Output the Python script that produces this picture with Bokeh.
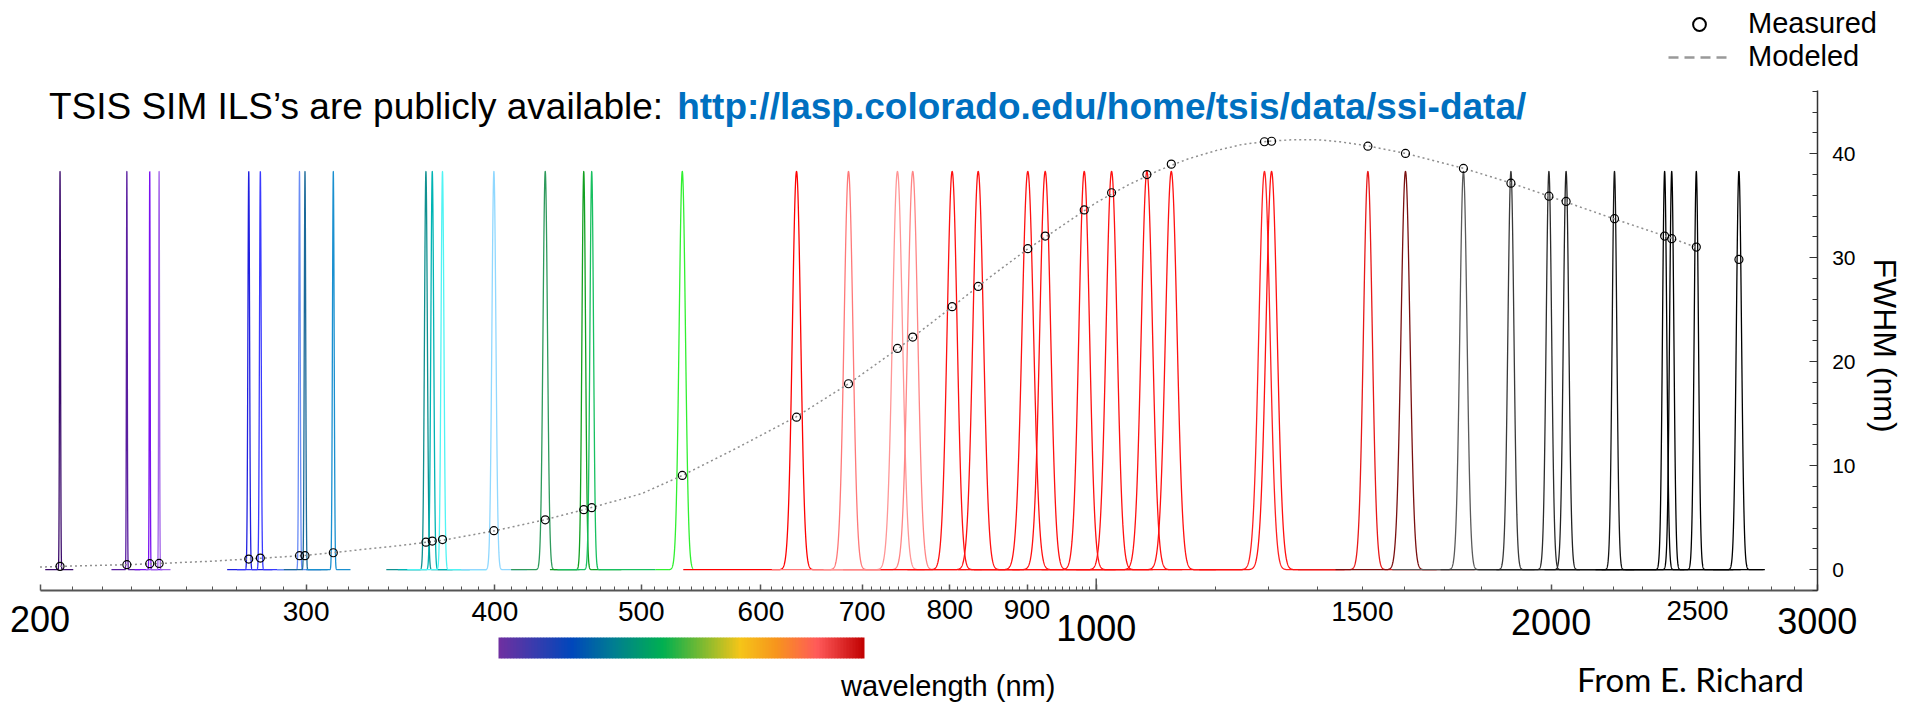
import numpy as np
from bokeh.plotting import figure
from bokeh.models import (FixedTicker, Label, Legend, LegendItem, ColumnDataSource,
                          BoxAnnotation, Range1d, LogAxis, LinearAxis, Grid)
from bokeh.embed import file_html
from bokeh.resources import INLINE

# ---------------- data ----------------
center_nm = [206.2, 228.3, 236.4, 239.8, 274.9, 279.8, 297.0, 299.5, 312.7, 360.1,
             363.6, 369.3, 399.4, 431.9, 458.0, 463.6, 532.2, 633.4, 685.6, 738.7,
             756.1, 802.9, 835.4, 901.0, 925.2, 981.9, 1023.7, 1080.3, 1121.2, 1292.2,
             1306.3, 1512.8, 1602.0, 1749.9, 1881.2, 1993.3, 2046.2, 2202.8, 2377.7, 2403.5,
             2495.3, 2662.7]
fwhm_measured = [0.32, 0.48, 0.58, 0.60, 1.02, 1.12, 1.35, 1.35, 1.63, 2.65,
                 2.75, 2.90, 3.75, 4.80, 5.77, 5.96, 9.07, 14.67, 17.88, 21.28,
                 22.37, 25.29, 27.24, 30.87, 32.08, 34.60, 36.25, 38.00, 39.00, 41.15,
                 41.20, 40.73, 40.03, 38.59, 37.17, 35.92, 35.41, 33.75, 32.08, 31.83,
                 31.02, 29.84]
# apparent width of each plotted ILS curve (nm) and the wavelength span of its data
ils_width_nm = [0.37, 0.35, 0.36, 0.37, 0.84, 0.85, 0.76, 0.77, 0.95, 1.84,
                1.86, 1.90, 2.86, 3.45, 2.93, 2.97, 6.0, 9.4, 10.9, 13.3,
                13.6, 14.4, 15.8, 18.5, 18.0, 18.6, 20.0, 21.6, 23.0, 25.8,
                26.1, 23.7, 25.4, 22.4, 20.2, 19.4, 19.9, 18.1, 18.2, 18.4,
                19.0, 24.6]
ils_lo_nm = [201.6, 223, 231, 235, 266, 270, 287, 290, 300, 339,
             345, 350, 380, 410, 435, 440, 511, 533, 610, 660,
             680, 720, 750, 810, 830, 880, 920, 970, 1000, 1160,
             1170, 1360, 1440, 1570, 1690, 1790, 1840, 1980, 2140, 2160,
             2240, 2560]
ils_hi_nm = [210.4, 233, 241, 244, 285, 290, 307, 310, 321, 375,
             385, 395, 420, 455, 485, 511, 541, 720, 770, 820,
             840, 890, 930, 1000, 1030, 1090, 1140, 1200, 1250, 1440,
             1460, 1680, 1780, 1950, 2090, 2220, 2270, 2450, 2640, 2670,
             2770, 2764]
ils_peak = 38.3

model_nm = [200, 206, 228, 240, 260, 280, 300, 320, 350, 370, 400, 430, 460, 500, 532,
            580, 633, 686, 740, 800, 850, 900, 950, 1000, 1050, 1100, 1150, 1200, 1250,
            1300, 1350, 1400, 1450, 1513, 1600, 1750, 1880, 2000, 2200, 2400, 2495]
model_fwhm = [0.25, 0.32, 0.48, 0.60, 0.82, 1.10, 1.38, 1.80, 2.40, 2.85, 3.75, 4.75, 5.85, 7.3, 9.05,
              11.8, 14.7, 17.9, 21.3, 25.1, 28.1, 30.8, 33.1, 35.3, 37.0, 38.4, 39.5, 40.3, 40.9,
              41.2, 41.35, 41.35, 41.15, 40.75, 40.05, 38.6, 37.2, 35.85, 33.75, 31.9, 31.0]

x_major_ticks = [200, 300, 400, 500, 600, 700, 800, 900, 1000, 2000, 3000]
x_minor_ticks = [v for v in range(210, 1000, 10) if v % 100] + [v for v in range(1100, 3000, 100) if v != 2000]
x_long_tick = [1000]
y_major_ticks = [0, 10, 20, 30, 40]
y_minor_ticks = [v for v in range(-2, 47, 2) if v % 10]

big_tick_labels = ["200", "1000", "2000", "3000"]
big_tick_values = [200, 1000, 2000, 3000]
small_tick_labels = ["300", "400", "500", "600", "700", "800", "900", "1500", "2500"]
small_tick_values = [300, 400, 500, 600, 700, 800, 900, 1500, 2500]

# ---------------- styles / layout ----------------
ils_colors = ['#3b0a6b', '#5a1ea0', '#7a10f0', '#a060e8', '#2020e0', '#3a3aff', '#6a8cf5', '#1c6a9a',
              '#1a90d0', '#109090', '#00b4b4', '#50f4f4', '#90d8ff', '#2e9a5c', '#12a020', '#18c060',
              '#30f030', '#ff0000', '#ff7878', '#ff9696', '#ff8585', '#ff1010', '#ff1010', '#ff1010',
              '#ff1010', '#ff1010', '#ff1010', '#ff1010', '#ff1010', '#ff2020', '#ff1010', '#e81818',
              '#7a1010', '#5a5a5a', '#3a3a3a', '#2c2c2c', '#222222', '#141414', '#000000', '#000000',
              '#000000', '#000000']
big_label_baseline = [631, 640, 634, 633]       # canvas px
small_label_baseline = [620, 620, 620, 620, 620, 618, 618, 620, 619]
cbar_stops = [(0.0, '#7030A0'), (0.2, '#0047BB'), (0.32, '#00808F'), (0.45, '#00B050'),
              (0.56, '#80BA30'), (0.66, '#F5C518'), (0.76, '#F7941D'), (0.87, '#FF5A5A'),
              (1.0, '#C00000')]

FONT = "Liberation Sans"
W, H = 1905, 703
AX_L, AX_R, AX_T, AX_B = 39.5, 1816.7, 90.0, 590.0   # canvas px of the axes box
X0, X1 = 200.0, 3000.0
Y0, Y1 = -2.0, 46.08
MID = 0.335   # em offset between the 'middle' anchor and the alphabetic baseline


def xd(px):
    return 10 ** (np.log10(X0) + (px - AX_L) / (AX_R - AX_L) * np.log10(X1 / X0))


def yd(py):
    return Y0 + (AX_B - py) / (AX_B - AX_T) * (Y1 - Y0)


def text_at(x, baseline_px, text, size, align="left", **kw):
    return Label(x=x, y=yd(baseline_px - MID * size), text=text, text_align=align,
                 text_baseline="middle", text_font=kw.pop("font", FONT),
                 text_font_size="%dpx" % size, text_color=kw.pop("color", "black"), **kw)


p = figure(width=W, height=H, x_axis_type="log", x_axis_location=None, y_axis_location=None,
           x_range=Range1d(xd(0), xd(W)), y_range=Range1d(yd(H), yd(0)),
           output_backend="svg", toolbar_location=None,
           min_border=0, min_border_left=0, min_border_right=0,
           min_border_top=0, min_border_bottom=0)
p.outline_line_color = None
p.background_fill_color = "white"
p.border_fill_color = "white"
for r in list(p.center):
    if isinstance(r, Grid):
        r.visible = False
        r.grid_line_color = None

# ILS curves
xs, ys = [], []
for c, w, lo, hi in zip(center_nm, ils_width_nm, ils_lo_nm, ils_hi_nm):
    s = w / 2.3548
    lam = np.concatenate([np.geomspace(lo, hi, 500), np.linspace(c - 5 * s, c + 5 * s, 300)])
    lam = np.unique(lam[(lam >= lo) & (lam <= hi)])
    xs.append(lam)
    ys.append(ils_peak * np.exp(-0.5 * ((lam - c) / s) ** 2))
p.multi_line(xs=xs, ys=ys, line_color=ils_colors, line_width=1.3)

# modeled FWHM
p.line(model_nm, model_fwhm, line_color="#8f8f8f", line_width=1.5, line_dash="2 3")
# measured FWHM
p.scatter(center_nm, fwhm_measured, marker="circle", size=8, fill_color=None,
          line_color="black", line_width=1.2)

# axes (fixed inside the canvas)
xa = LogAxis(fixed_location=Y0, bounds=(X0, X1),
             ticker=FixedTicker(ticks=x_major_ticks, minor_ticks=x_minor_ticks),
             major_label_overrides={t: "" for t in x_major_ticks})
xa.axis_line_color = "#555555"
xa.axis_line_width = 2
xa.major_tick_in = 6
xa.major_tick_out = 0
xa.minor_tick_in = 4
xa.minor_tick_out = 0
xa.major_tick_line_color = "#555555"
xa.minor_tick_line_color = "#555555"
xa.major_tick_line_width = 1.5
p.add_layout(xa, "below")
p.segment(x0=x_long_tick, y0=[Y0] * len(x_long_tick), x1=x_long_tick,
          y1=[yd(AX_B - 12)] * len(x_long_tick), line_color="#555555", line_width=1.5)

ya = LinearAxis(fixed_location=X1, bounds=(Y0, Y1),
                ticker=FixedTicker(ticks=y_major_ticks, minor_ticks=y_minor_ticks))
ya.axis_line_color = "#333333"
ya.axis_line_width = 1.5
ya.major_tick_in = 8
ya.major_tick_out = 0
ya.minor_tick_in = 5
ya.minor_tick_out = 0
ya.major_tick_line_color = "#333333"
ya.minor_tick_line_color = "#333333"
ya.major_label_text_font = FONT
ya.major_label_text_font_size = "21px"
ya.major_label_text_color = "black"
ya.major_label_standoff = 15
p.add_layout(ya, "right")

# x tick labels
for t, v, b in zip(big_tick_labels, big_tick_values, big_label_baseline):
    p.add_layout(text_at(v, b, t, 36, align="center"))
for t, v, b in zip(small_tick_labels, small_tick_values, small_label_baseline):
    p.add_layout(text_at(v, b, t, 28, align="center"))

# y axis title
p.add_layout(Label(x=xd(1884), y=yd(345), text="FWHM (nm)", angle=-np.pi / 2,
                   text_align="center", text_baseline="middle",
                   text_font=FONT, text_font_size="32px", text_color="black"))

# header
p.add_layout(text_at(xd(48.4), 118.3, "TSIS SIM ILS\u2019s are publicly available:", 37))
p.add_layout(text_at(xd(676.7), 118.3, "http://lasp.colorado.edu/home/tsis/data/ssi-data/", 37,
                     color="#0070C0", text_font_style="bold"))


# colour bar (wavelength)
def mix(c1, c2, f):
    a = [int(c1[i:i + 2], 16) for i in (1, 3, 5)]
    b = [int(c2[i:i + 2], 16) for i in (1, 3, 5)]
    return "#%02x%02x%02x" % tuple(int(round(a[k] + (b[k] - a[k]) * f)) for k in range(3))


CB_L, CB_R, CB_T, CB_B = 498.0, 864.0, 637.0, 658.0
nseg = 122
for i in range(nseg):
    f = (i + 0.5) / nseg
    col = cbar_stops[-1][1]
    for j in range(len(cbar_stops) - 1):
        if cbar_stops[j][0] <= f <= cbar_stops[j + 1][0]:
            g = (f - cbar_stops[j][0]) / (cbar_stops[j + 1][0] - cbar_stops[j][0])
            col = mix(cbar_stops[j][1], cbar_stops[j + 1][1], g)
            break
    l = CB_L + (CB_R - CB_L) * i / nseg
    r = CB_L + (CB_R - CB_L) * (i + 1) / nseg + 0.6
    p.add_layout(BoxAnnotation(left=xd(l), right=xd(min(r, CB_R)), top=yd(CB_T), bottom=yd(CB_B),
                               fill_color=col, fill_alpha=1.0, line_color=None))

p.add_layout(text_at(xd(947.7), 695.5, "wavelength (nm)", 29, align="center"))
p.add_layout(text_at(xd(1690), 690, "From E. Richard", 33, align="center", font="Lato"))

# legend (styled like the reference's legend); its sample renderers sit off-canvas
src_leg_c = ColumnDataSource(dict(x=[xd(-60)], y=[yd(-60)]))
src_leg_l = ColumnDataSource(dict(x=[xd(-80), xd(-60)], y=[yd(-60), yd(-60)]))
leg_c = p.scatter("x", "y", source=src_leg_c, marker="circle", size=13, fill_color=None,
                  line_color="black", line_width=2)
leg_l = p.line("x", "y", source=src_leg_l, line_color="#999999", line_width=2.5, line_dash="10 6")
legend = Legend(items=[LegendItem(label="Measured", renderers=[leg_c]),
                       LegendItem(label="Modeled", renderers=[leg_l])],
                location=(1668, H - 73), glyph_width=62, glyph_height=32,
                label_standoff=18, padding=0, margin=0, spacing=0, label_height=32,
                border_line_color=None, background_fill_alpha=0,
                label_text_font=FONT, label_text_font_size="29px", label_text_color="black")
p.add_layout(legend, "center")

open("out.html", "w").write(file_html(p, INLINE))
